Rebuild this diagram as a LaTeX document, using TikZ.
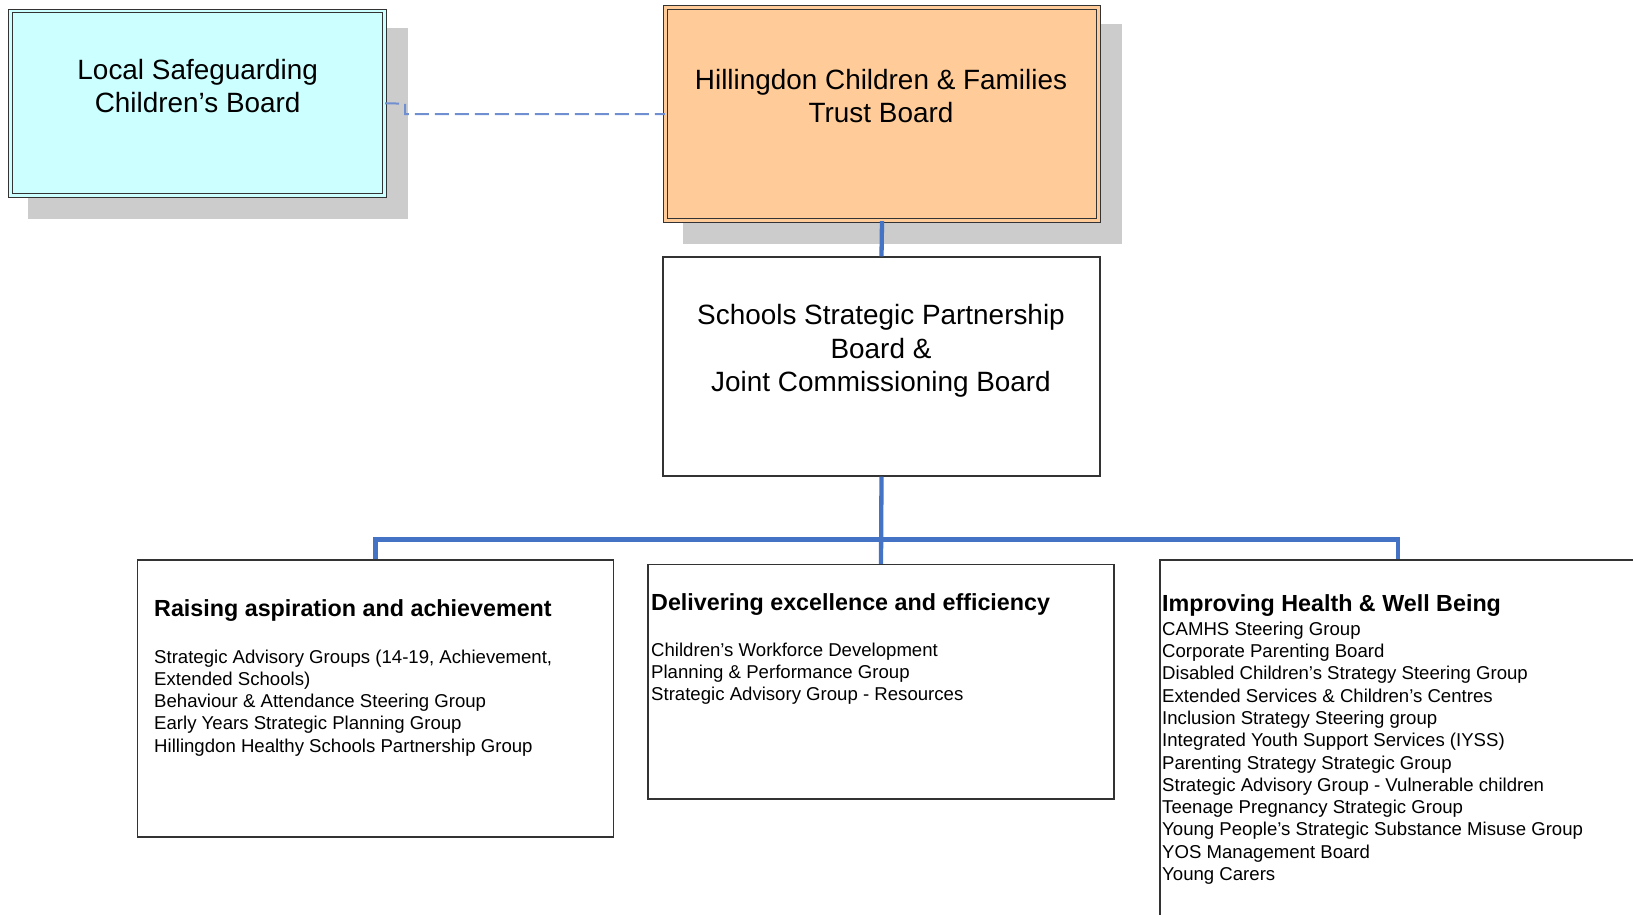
\documentclass[tikz,border=0pt]{standalone}
\usepackage{fontspec}
\setmainfont{Liberation Sans}
\usetikzlibrary{positioning,backgrounds}

\definecolor{boardcyan}{HTML}{CCFFFF}
\definecolor{boardorange}{HTML}{FFCC99}
\definecolor{linkblue}{HTML}{4472C4}
\definecolor{dashblue}{HTML}{6F8FD0}
\definecolor{shadowgray}{HTML}{CCCCCC}
\definecolor{edgegray}{HTML}{333333}

\newcommand{\boardfont}{\fontsize{27.9}{33.5}\selectfont}
\newcommand{\headfont}{\fontsize{23.3}{28}\selectfont\bfseries}
\newcommand{\bodyfont}{\fontsize{18.6}{22.3}\selectfont}

\tikzset{
  board/.style={draw=edgegray, line width=1pt, double distance=2.6pt, inner sep=0pt},
  boardshadow/.style={fill=shadowgray},
  panel/.style={draw=edgegray, line width=1.3pt, inner sep=0pt},
  boardtext/.style={font=\boardfont, inner sep=0pt, anchor=base},
  listtext/.style={font=\bodyfont, inner sep=0pt, anchor=base west},
  link/.style={draw=linkblue, line width=4.3pt},
  dashlink/.style={draw=dashblue, line width=2pt, dash pattern=on 14pt off 6pt}
}

\begin{document}
\begin{tikzpicture}[x=1pt, y=-1pt]
  \useasboundingbox (0,0) rectangle (1633,914);
  \clip (0,0) rectangle (1633,914);

  % Top boards
  \node[board, fill=boardcyan, double=boardcyan, minimum width=374.4pt, minimum height=184.9pt]
    (lscb) at (197.5,103.25) {};
  \node[board, fill=boardorange, double=boardorange, minimum width=433.4pt, minimum height=213.4pt]
    (trust) at (882,114) {};
  \node[boardtext] (lscbtext) at (197.7,79)
    {\begin{tabular}[t]{@{}c@{}}Local Safeguarding\\Children’s Board\end{tabular}};
  \node[boardtext] (trusttext) at (881,89)
    {\begin{tabular}[t]{@{}c@{}}Hillingdon Children \& Families\\Trust Board\end{tabular}};

  % Shadows behind the boards
  \begin{pgfonlayer}{background}
    \fill[boardshadow] ([shift={(17.7,17.7)}]lscb.north west) rectangle ([shift={(22.3,22.3)}]lscb.south east);
    \fill[boardshadow] ([shift={(17.7,16.7)}]trust.north west) rectangle ([shift={(22.3,22.3)}]trust.south east);
  \end{pgfonlayer}

  % Partnership board
  \node[panel, minimum width=437pt, minimum height=219pt] (sspb) at (881.5,366.5) {};
  \node[boardtext] (sspbtext) at (881,324.5)
    {\begin{tabular}[t]{@{}c@{}}Schools Strategic Partnership\\Board \&\\Joint Commissioning Board\end{tabular}};

  % Priority boxes
  \node[panel, minimum width=476pt, minimum height=277pt] (raise) at (375.5,698.5) {};
  \node[panel, minimum width=466pt, minimum height=234.5pt] (deliver) at (881,681.75) {};
  \node[panel, minimum width=476pt, minimum height=400pt] (health) at (1398,760) {};

  \node[listtext] (raisetext) at (154,616)
    {\begin{tabular}[t]{@{}l@{}}{\headfont Raising aspiration and achievement}\\[24.7pt]
    Strategic Advisory Groups (14-19, Achievement,\\
    Extended Schools)\\
    Behaviour \& Attendance Steering Group\\
    Early Years Strategic Planning Group\\
    Hillingdon Healthy Schools Partnership Group\end{tabular}};
  \node[listtext] (delivertext) at (651,610)
    {\begin{tabular}[t]{@{}l@{}}{\headfont Delivering excellence and efficiency}\\[24pt]
    Children’s Workforce Development\\
    Planning \& Performance Group\\
    Strategic Advisory Group - Resources\end{tabular}};
  \node[listtext] (healthtext) at (1162,611)
    {\begin{tabular}[t]{@{}l@{}}{\headfont Improving Health \& Well Being}\\[1.9pt]
    CAMHS Steering Group\\
    Corporate Parenting Board\\
    Disabled Children’s Strategy Steering Group\\
    Extended Services \& Children’s Centres\\
    Inclusion Strategy Steering group\\
    Integrated Youth Support Services (IYSS)\\
    Parenting Strategy Strategic Group\\
    Strategic Advisory Group - Vulnerable children\\
    Teenage Pregnancy Strategic Group\\
    Young People’s Strategic Substance Misuse Group\\
    YOS Management Board\\
    Young Carers\end{tabular}};

  % Connectors
  \coordinate (kink) at (405,103.7);
  \coordinate (bus) at (881,539.5);
  \draw[dashlink] (lscb.east) -- (kink) |- (trust.west);
  \draw[link] (trust.south) -- (sspb.north);
  \draw[link] (sspb.south) -- (deliver.north);
  \draw[link] (raise.north) |- (bus) -| (health.north);

\end{tikzpicture}
\end{document}
